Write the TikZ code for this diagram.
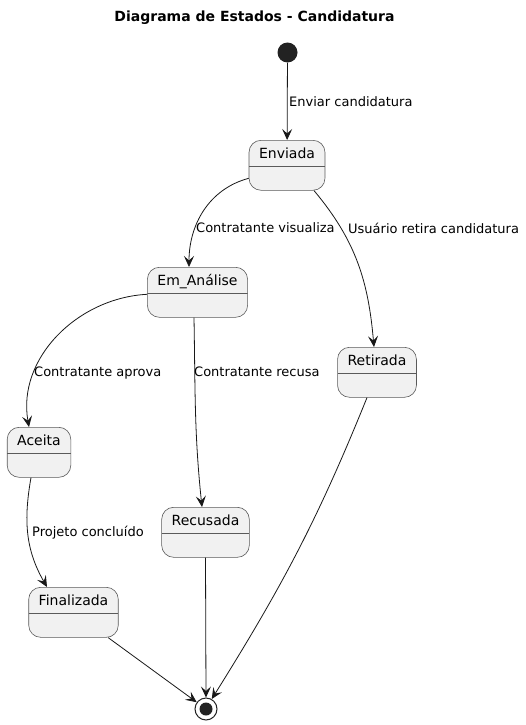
\documentclass[tikz,border=0pt]{standalone}
\usepackage{fontspec}
\setmainfont{DejaVu Sans}
\usepackage{tikz}
\usetikzlibrary{arrows.meta, positioning, calc}
\definecolor{cLine}{RGB}{24,24,24}
\definecolor{cSep}{RGB}{90,90,90}
\definecolor{cState}{RGB}{241,241,241}
\definecolor{cDot}{RGB}{34,34,34}
\tikzset{
	stbox/.style ={rectangle, rounded corners=12pt, draw=cSep, line width=0.6pt, fill=cState, inner xsep=10pt, inner ysep=0pt, text height=18pt, text depth=32pt, anchor=north, font=\fontsize{14}{16}\selectfont,
		path picture={\draw[cSep, line width=0.5pt] ([yshift=-26pt]path picture bounding box.north west) -- ([yshift=-26pt]path picture bounding box.north east);}},
	initst/.style={circle, fill=cDot, minimum size=20pt, inner sep=0pt},
	finst/.style ={circle, draw=cDot, line width=1pt, fill=white, minimum size=22pt, inner sep=0pt,
		path picture={\fill[cDot] (path picture bounding box.center) circle (6.5pt);}},
	trans/.style ={-{Stealth[length=11pt, width=10pt, inset=4.5pt]}, cLine, line width=0.8pt},
	lbl/.style   ={anchor=west, inner sep=0pt, font=\fontsize{13}{15}\selectfont},
}

\begin{document}
\begin{tikzpicture}[x=1pt, y=-1pt]
	\useasboundingbox (0,0) rectangle (525,725);
	\node[font=\bfseries\fontsize{14}{16}\selectfont] (title) at (254.5,18) {Diagrama de Estados - Candidatura};

	% estados
	\node[initst] (ini) at (287.5,52.5) {};
	\node[stbox] (env) at (287,140) {Enviada};
	\node[stbox] (ana) at (197.5,267) {Em\_Análise};
	\node[stbox] (ret) at (377,347) {Retirada};
	\node[stbox] (ace) at (39,427) {Aceita};
	\node[stbox] (rec) at (205.5,507) {Recusada};
	\node[stbox] (fin) at (73.5,587) {Finalizada};
	\node[finst] (fim) at (206,709) {};

	% transicoes
	\draw[trans] (ini) -- (env);
	\draw[trans] ([yshift=-13pt]env.west) to[out=195, in=90] ([xshift=-8.5pt]ana.north);
	\draw[trans] ([xshift=27pt]env.south) to[out=-50, in=95] ([xshift=-3pt]ret.north);
	\draw[trans] ([yshift=-2pt]ana.west) to[out=183, in=100] ([xshift=-10pt]ace.north);
	\draw[trans] ([xshift=-3.5pt]ana.south) to[out=-89, in=96] ([xshift=-3.5pt]rec.north);
	\draw[trans] ([xshift=-8pt]ace.south) to[out=-100, in=120] ([xshift=-26.5pt]fin.north);
	\draw[trans] (fin) -- (fim);
	\draw[trans] (rec.south) -- (fim.north);
	\draw[trans] ([xshift=-10pt]ret.south) to[out=-112, in=58] (fim.60);

	% rotulos
	\node[lbl] (lEnv) at (289,102) {Enviar candidatura};
	\node[lbl] (lVis) at (196,228) {Contratante visualiza};
	\node[lbl] (lRet) at (348,228) {Usuário retira candidatura};
	\node[lbl] (lApr) at (34,373) {Contratante aprova};
	\node[lbl] (lRec) at (194,372) {Contratante recusa};
	\node[lbl] (lCon) at (32,533) {Projeto concluído};
\end{tikzpicture}
\end{document}
